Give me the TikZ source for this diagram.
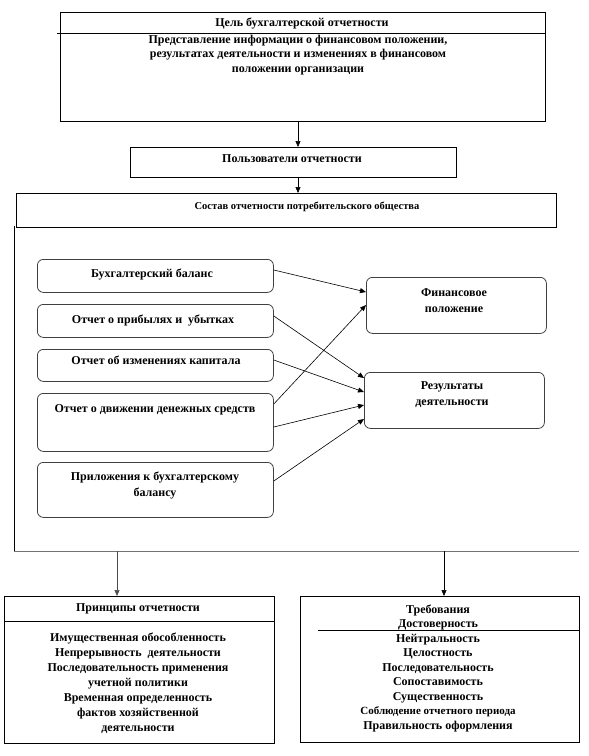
\documentclass[tikz,border=0pt]{standalone}
\usepackage{fontspec}
\setmainfont{Liberation Serif}
\usetikzlibrary{arrows.meta}
\begin{document}
\begin{tikzpicture}[x=1pt,y=-1pt,
  txt/.style={font=\bfseries\fontsize{12}{14.5}\selectfont, align=center, inner sep=0pt},
  sqbox/.style={draw=black, line width=0.8pt},
  rbox/.style={draw=black!75, line width=0.8pt, rounded corners=6pt},
  arr/.style={-{Triangle[length=6pt,width=5pt]}, line width=0.6pt},
  grayline/.style={draw=black!55, line width=1pt}
]
\useasboundingbox (0,0) rectangle (589,756);

% top box
\node[sqbox, minimum width=485pt, minimum height=109pt, anchor=north west] (goal) at (60,12) {};
\node[txt] (goalt) at (302,23) {Цель бухгалтерской отчетности};
\coordinate (gdl) at (57,33);
\coordinate (gdr) at (545,33);
\draw[line width=0.8pt] (gdl) -- (gdr);
\node[txt, anchor=north] (goalb) at (298,34.5) {Представление информации о финансовом положении,\\результатах деятельности и изменениях в финансовом\\положении организации};

% users
\node[sqbox, minimum width=326pt, minimum height=30pt, anchor=north west] (users) at (130,147) {};
\node[txt] (userst) at (292,159) {Пользователи отчетности};
\coordinate (a1s) at (298,121);
\coordinate (a1e) at (298,147);
\draw[arr] (a1s) -- (a1e);

% composition
\node[sqbox, minimum width=540pt, minimum height=34pt, anchor=north west] (comp) at (16,193) {};
\node[txt, font=\bfseries\fontsize{10.5}{14}\selectfont] (compt) at (307,207) {Состав отчетности потребительского общества};
\coordinate (a2s) at (298,177);
\coordinate (a2e) at (298,193);
\draw[arr] (a2s) -- (a2e);

% container
\coordinate (c1) at (14,226);
\coordinate (c2) at (14,551);
\coordinate (c3) at (579,551);
\draw[line width=0.8pt] (c1) -- (c2);
\draw[grayline] (c2) -- (c3);

% left rounded boxes
\node[rbox, minimum width=236pt, minimum height=33pt, anchor=north west] (b1) at (37,259) {};
\node[txt] at (152,274) {Бухгалтерский баланс};
\node[rbox, minimum width=236pt, minimum height=33pt, anchor=north west] (b2) at (37,304) {};
\node[txt] at (153,320) {Отчет о прибылях и \ убытках};
\node[rbox, minimum width=236pt, minimum height=32pt, anchor=north west] (b3) at (37,349) {};
\node[txt] at (156,360) {Отчет об изменениях капитала};
\node[rbox, minimum width=236pt, minimum height=58pt, anchor=north west] (b4) at (37,393) {};
\node[txt] at (155,410) {Отчет о движении денежных средств};
\node[rbox, minimum width=236pt, minimum height=55pt, anchor=north west] (b5) at (37,462) {};
\node[txt, font=\bfseries\fontsize{12}{16}\selectfont] at (155,485) {Приложения к бухгалтерскому\\балансу};

% right rounded boxes
\node[rbox, minimum width=180pt, minimum height=56pt, anchor=north west] (fin) at (366,277) {};
\node[txt, font=\bfseries\fontsize{12}{16}\selectfont] at (454,301) {Финансовое\\положение};
\node[rbox, minimum width=180pt, minimum height=56pt, anchor=north west] (res) at (364,372) {};
\node[txt, font=\bfseries\fontsize{12}{16}\selectfont] at (452,395) {Результаты\\деятельности};

% arrows
\draw[arr] (b1.east |- 0,270) -- (fin.west |- 0,292);
\draw[arr] (b4.east |- 0,404) -- (fin.west |- 0,305);
\draw[arr] (b2.east |- 0,316) -- (res.west |- 0,378);
\draw[arr] (b3.east |- 0,360) -- (res.west |- 0,392);
\draw[arr] (b4.east |- 0,427) -- (res.west |- 0,405);
\draw[arr] (b5.east |- 0,481) -- (res.west |- 0,419);

% bottom boxes
\node[sqbox, minimum width=270pt, minimum height=147pt, anchor=north west] (pr) at (4,596) {};
\node[sqbox, minimum width=279pt, minimum height=146pt, anchor=north west] (rq) at (300,596) {};
\coordinate (p1) at (117,551);
\coordinate (q1) at (444,551);
\draw[arr, draw=black!70] (p1) -- (p1 |- pr.north);
\draw[arr] (q1) -- (q1 |- rq.north);

\node[txt] at (138,609) {Принципы отчетности};
\draw[line width=0.8pt] (pr.west |- 0,621) -- (pr.east |- 0,621);
\node[txt, anchor=north, font=\bfseries\fontsize{12}{15}\selectfont] at (138,632.5) {Имущественная обособленность\\Непрерывность \ деятельности\\Последовательность применения\\учетной политики\\Временная определенность\\фактов хозяйственной\\деятельности};

\node[txt, anchor=north, font=\bfseries\fontsize{12}{14.5}\selectfont] at (438,604.5) {Требования\\Достоверность\\Нейтральность\\Целостность\\Последовательность\\Сопоставимость\\Существенность\\{\fontsize{11}{14.5}\selectfont Соблюдение отчетного периода}\\Правильность оформления};
\draw[line width=0.8pt] (318,630) -- (rq.east |- 0,630);
\end{tikzpicture}
\end{document}
